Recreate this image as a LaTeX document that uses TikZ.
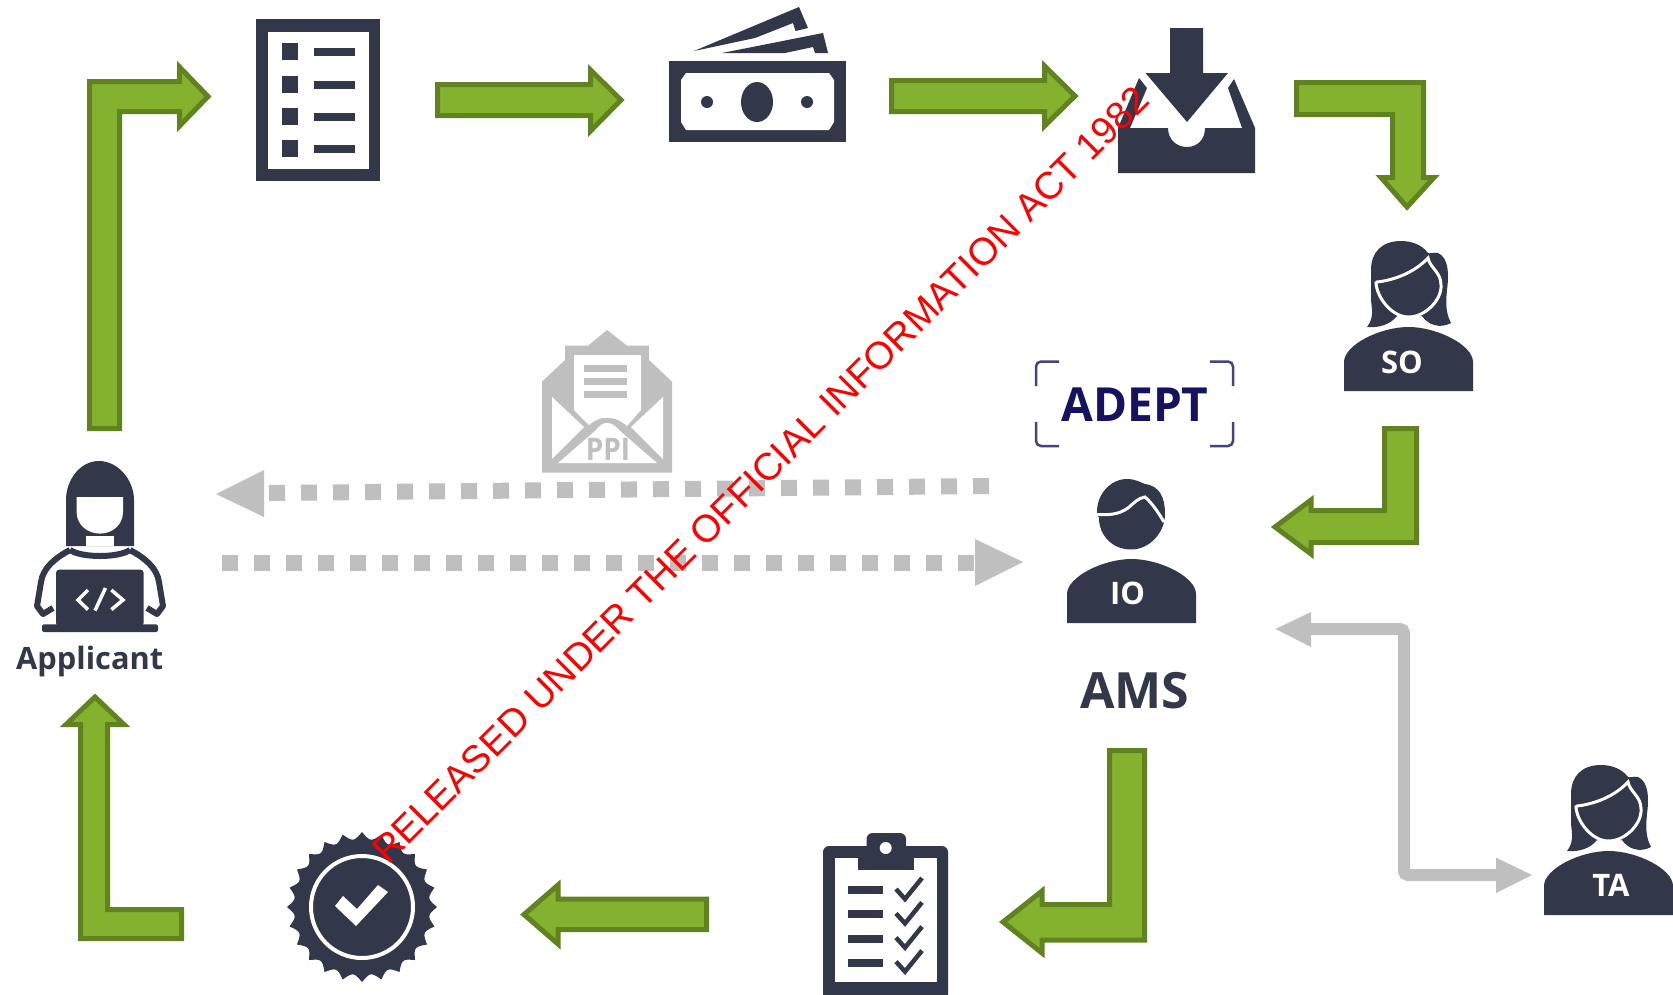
\documentclass[tikz,border=0pt]{standalone}
\usepackage{fontspec}
\setmainfont{Open Sans}
\newfontfamily\wmfont{Liberation Sans}
\newcommand{\semi}{\bfseries}
\definecolor{dk}{HTML}{323749}
\definecolor{gfill}{HTML}{85B22E}
\definecolor{gline}{HTML}{60831F}
\definecolor{lgrey}{HTML}{BFBFBF}
\definecolor{adeptc}{HTML}{15125F}
\definecolor{brack}{HTML}{45437A}
\tikzset{
  blockarrow/.style={fill=gfill,draw=gline,line width=5pt,miter limit=10},
  wh/.style={fill=white,draw=none},
  gr/.style={fill=lgrey,draw=none},
  badgeletter/.style={text=white,font=\semi\fontsize{31}{31}\selectfont,inner sep=0pt,anchor=base},
  dotted line/.style={draw=lgrey,line width=16pt,dash pattern=on 16pt off 16pt},
  duplex/.style={draw=lgrey,line width=12pt,rounded corners=4pt},
}
\newcommand{\shoulders}{
  \fill[dk] (1344,391) -- (1344,362) .. controls (1344,345) and (1380,327) .. (1408.5,327) .. controls (1437,327) and (1473,345) .. (1473,362) -- (1473,391) -- cycle;
}
\newcommand{\femalehead}{
  \fill[dk] (1401,241) .. controls (1382,241) and (1371,252) .. (1371,270) -- (1371,300) .. controls (1372,310) and (1374,318) .. (1367,327) .. controls (1378,328) and (1390,325) .. (1397,316) -- (1422,316) .. controls (1428,325) and (1440,329) .. (1451,323) .. controls (1445,312) and (1446,300) .. (1447,290) .. controls (1449,275) and (1449,258) .. (1438,253) .. controls (1433,252) and (1430,254) .. (1428,253) .. controls (1422,245) and (1412,241) .. (1401,241) -- cycle;
  \draw[white,line width=3pt,fill=dk] (1377,282) .. controls (1395,280) and (1415,272) .. (1428,258) .. controls (1430,268) and (1441,272) .. (1441,285) .. controls (1442,300) and (1425,317) .. (1408.5,317) .. controls (1392,317) and (1377,298) .. (1376,283) -- cycle;
}
\begin{document}
\begin{tikzpicture}[x=1pt,y=-1pt]
\useasboundingbox (0,0) rectangle (1673,994);
% green block arrows
\draw[blockarrow] (89.5,428.5) -- (89.5,81.5) -- (179.5,81.5) -- (179.5,67) -- (208,96.5) -- (179.5,126) -- (179.5,111.5) -- (119.5,111.5) -- (119.5,428.5) -- cycle;
\draw[blockarrow] (437.5,84.5) -- (590.5,84.5) -- (590.5,70) -- (621,100) -- (590.5,131) -- (590.5,115.5) -- (437.5,115.5) -- cycle;
\draw[blockarrow] (891.5,80.5) -- (1044.5,80.5) -- (1044.5,66) -- (1075,96) -- (1044.5,126) -- (1044.5,111.5) -- (891.5,111.5) -- cycle;
\draw[blockarrow] (1296.5,82.5) -- (1423.5,82.5) -- (1423.5,177.5) -- (1434,177.5) -- (1407,207) -- (1381,177.5) -- (1392.5,177.5) -- (1392.5,114.5) -- (1296.5,114.5) -- cycle;
\draw[blockarrow] (1384.5,428.5) -- (1416.5,428.5) -- (1416.5,542.5) -- (1311,542.5) -- (1311,554) -- (1275,527) -- (1311,500) -- (1311,510.5) -- (1384.5,510.5) -- cycle;
\draw[blockarrow] (1109.5,750.5) -- (1144.5,750.5) -- (1144.5,940) -- (1042,940) -- (1042,953) -- (1003,922) -- (1042,891) -- (1042,904.5) -- (1109.5,904.5) -- cycle;
\draw[blockarrow] (706.5,899) -- (706.5,929.5) -- (558,929.5) -- (558,944) -- (524,914.5) -- (558,885) -- (558,899) -- cycle;
\draw[blockarrow] (181.5,938.5) -- (80.5,938.5) -- (80.5,724.5) -- (66,724.5) -- (95,697) -- (124,724.5) -- (107.5,724.5) -- (107.5,909.5) -- (181.5,909.5) -- cycle;
% list icon
\fill[dk] (256,19) rectangle (380,181);
\fill[wh] (268,32) rectangle (368.5,169);
\foreach \y in {43,76,108,140} {
  \fill[dk] (282,\y) rectangle (298,\y+17);
  \fill[dk] (314,\y+5) rectangle (355,\y+13);
}
% money icon
\fill[dk] (669,61) rectangle (846,142);
\fill[wh] (686,73) -- (829,73) -- (834,80) -- (834,122) -- (829,130) -- (686,130) -- (681,122) -- (681,80) -- cycle;
\fill[dk] (757,102) ellipse [x radius=16,y radius=20];
\fill[dk] (707,102) circle [radius=6];
\fill[dk] (807,102) circle [radius=6];
\fill[dk] (694,51) -- (799,7) -- (808,28) -- (795.5,31) -- (793,23) -- (755,38) -- cycle;
\fill[dk] (722,53) -- (823,33) -- (828,53) -- (815,53) -- (813,47) -- (785,53) -- cycle;
% inbox icon
\fill[dk] (1170,28) -- (1203,28) -- (1203,73) -- (1228,73) -- (1187,122) -- (1145.5,73) -- (1170,73) -- cycle;
\fill[dk] (1118,128) -- (1139,78) -- (1147,88) -- (1130,128) -- (1168,128) .. controls (1168,140) and (1177,147) .. (1187,147) .. controls (1197,147) and (1205,140) .. (1205,128) -- (1242,128) -- (1228,88) -- (1234,79) -- (1255,128) -- (1255,173) -- (1118,173) -- cycle;
% PPI envelope
\fill[gr] (542,472.7) -- (542,381.7) -- (565,360) -- (565,345.7) -- (588,345.7) -- (607,330) -- (627,345.7) -- (649,345.7) -- (649,360) -- (672,381.7) -- (672,472.7) -- cycle;
\fill[wh] (574,355) -- (641,355) -- (641,410) -- (627,426) .. controls (620,420) and (614,417.7) .. (607,417.7) .. controls (600,417.7) and (595,420) .. (589,425) -- (574,410) -- cycle;
\fill[gr] (584,365) rectangle (627,372);
\fill[gr] (584,378) rectangle (627,385);
\fill[gr] (584,391) rectangle (627,398);
\fill[wh] (552,397) -- (584,427) -- (552,459) -- cycle;
\fill[wh] (663,397) -- (631,427) -- (663,459) -- cycle;
\fill[wh] (558,463) -- (595,431) .. controls (600,425) and (603,423) .. (607,423) .. controls (611,423) and (615,425) .. (620,431) -- (657,463) -- cycle;
\node[inner sep=0pt,anchor=base,text=lgrey,font=\semi\fontsize{31}{31}\selectfont,xscale=.9] (ppi) at (608,460) {PPI};
% dotted arrows
\coordinate (dA1) at (989,486);
\coordinate (dA2) at (269,493);
\coordinate (dB1) at (222,563);
\coordinate (dB2) at (974,563);
\draw[dotted line] (dA1) -- (dA2);
\draw[dotted line] (dB1) -- (dB2);
\fill[gr] (216,494) -- (264,470) -- (264,517) -- cycle;
\fill[gr] (1023,562) -- (975,539) -- (975,586) -- cycle;
% ADEPT
\node[inner sep=0pt,anchor=base,text=adeptc,font=\bfseries\fontsize{47}{47}\selectfont,xscale=.98] (adept) at (1135,421) {ADEPT};
\draw[brack,line width=2.5pt,rounded corners=5pt] (1059,361.5) -- (1036,361.5) -- (1036,386);
\draw[brack,line width=2.5pt,rounded corners=5pt] (1210,361.5) -- (1233,361.5) -- (1233,386);
\draw[brack,line width=2.5pt,rounded corners=5pt] (1059,446) -- (1036,446) -- (1036,422);
\draw[brack,line width=2.5pt,rounded corners=5pt] (1210,446) -- (1233,446) -- (1233,422);
% SO
\shoulders
\femalehead
\node[badgeletter] (so) at (1402,373) {SO};
% TA
\begin{scope}[shift={(200,524)}]
\shoulders
\femalehead
\end{scope}
\node[badgeletter] (ta) at (1611,896) {TA};
% IO
\begin{scope}[shift={(-277,232)}]
\shoulders
\end{scope}
\fill[dk] (1097,514) .. controls (1096,495) and (1110,479) .. (1127,479) .. controls (1135,479) and (1140,482) .. (1145,484) .. controls (1160,486) and (1165,498) .. (1165,514) .. controls (1165,532) and (1150,549.5) .. (1131,549.5) .. controls (1112,549.5) and (1099,535) .. (1099,518) -- cycle;
\draw[white,line width=3pt] (1096,514.5) .. controls (1108,515) and (1118,515) .. (1128,508) .. controls (1134,503) and (1138,498) .. (1145,497) .. controls (1152,503) and (1158,512) .. (1164,522);
\node[badgeletter] (io) at (1127.5,604) {IO};
% AMS
\node[inner sep=0pt,anchor=base west,text=dk,font=\semi\fontsize{50}{50}\selectfont] (ams) at (1080,708.5) {AMS};
% grey double arrow
\coordinate (g1) at (1311,629);
\coordinate (g2) at (1404,629);
\coordinate (g3) at (1404,875);
\coordinate (g4) at (1496,875);
\draw[duplex] (g1) -- (g2) -- (g3) -- (g4);
\fill[gr] (1275.6,629) -- (1311,612) -- (1311,647) -- cycle;
\fill[gr] (1532,875) -- (1496,857.6) -- (1496,893) -- cycle;
% applicant
\fill[dk] (99,461) .. controls (80,461) and (66,480) .. (66,500) -- (66,546) -- (134,546) -- (134,500) .. controls (134,480) and (118,461) .. (99,461) -- cycle;
\fill[wh] (76.6,497) -- (123,497) -- (123,512) .. controls (123,525) and (112,533.6) .. (100,533.6) .. controls (88,533.6) and (76.6,525) .. (76.6,512) -- cycle;
\fill[wh] (86,536) -- (114,536) -- (114,546) -- (86,546) -- cycle;
\draw[draw=dk,line width=6pt,line join=round] (70,550) .. controls (55,558) and (43,568) .. (41,582) -- (37,606) -- (43,614) -- (53,608);
\draw[draw=dk,line width=6pt,line join=round] (130,550) .. controls (145,558) and (157,568) .. (159,582) -- (163,606) -- (157,614) -- (147,608);
\draw[draw=dk,line width=6pt] (70,550) .. controls (82,558) and (118,558) .. (130,550);
\fill[dk,rounded corners=3pt] (56,569.7) rectangle (143.6,626);
\fill[dk,rounded corners=2pt] (42,624.4) rectangle (158,632);
\draw[white,line width=3.5pt] (88,590) -- (78,600) -- (88,609.6);
\draw[white,line width=3.5pt] (105.5,588) -- (95,610.6);
\draw[white,line width=3.5pt] (111.4,590) -- (123,600) -- (111.4,609.6);
\node[inner sep=0pt,anchor=base west,text=dk,font=\semi\fontsize{30.8}{30.8}\selectfont] (applicant) at (16,669.6) {Applicant};
% badge
\fill[dk] plot [samples=385,domain=0:360] ({362+(68+7*(1-abs(sin(12*\x))))*cos(\x)},{907+(68+7*(1-abs(sin(12*\x))))*sin(\x)}) -- cycle;
\draw[white,line width=4pt] (362,907) circle [radius=51];
\fill[wh] (335,906) -- (343,896) -- (357,909) -- (378,885) -- (388,892) -- (356,926) -- cycle;
% clipboard
\fill[dk,rounded corners=6pt] (823,846) rectangle (948,1000);
\fill[wh] (835,858) rectangle (937,982);
\fill[dk] (857.5,846) rectangle (914,870);
\fill[dk,rounded corners=6pt] (866.5,833) rectangle (906,856);
\fill[wh] (885.7,848) circle [radius=6];
\foreach \y in {886,910.4,934.6,958.6} {
  \fill[dk] (847.5,\y) rectangle (882.5,\y+8);
  \draw[draw=dk,line width=4.5pt] (896,\y+3) -- (905,\y+13) -- (922,\y-8);
}
% watermark
\node[inner sep=0pt,anchor=base west,rotate=45,text=red,font=\wmfont\fontsize{38.3}{38.3}\selectfont] (stamp) at (388,866) {RELEASED UNDER THE OFFICIAL INFORMATION ACT 1982};
\end{tikzpicture}
\end{document}
